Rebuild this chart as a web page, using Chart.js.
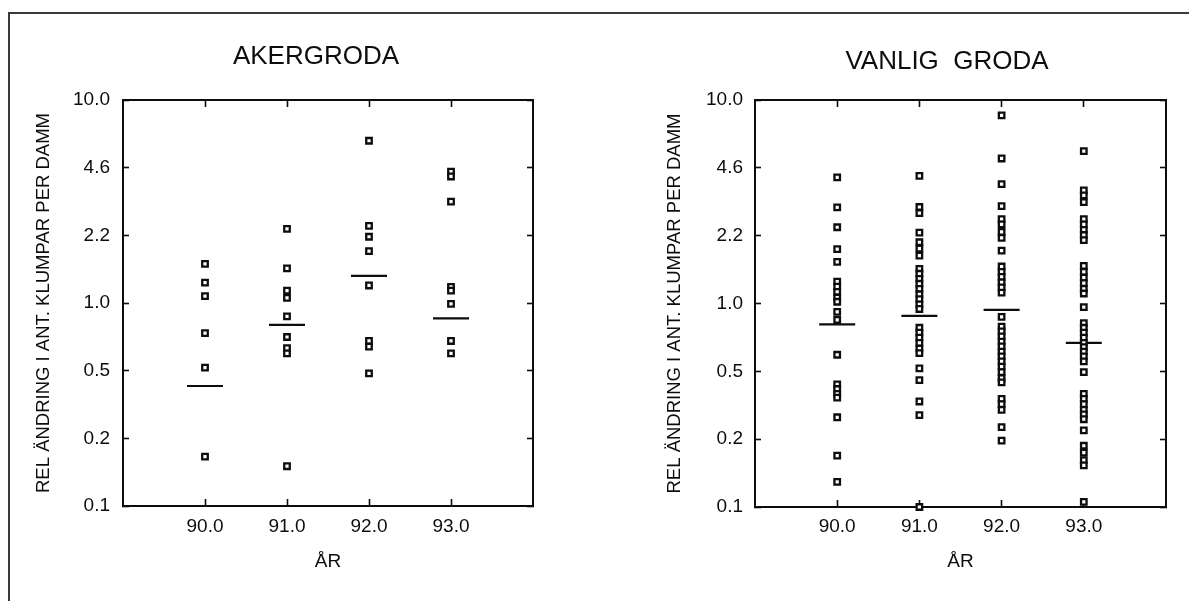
<!DOCTYPE html>
<html>
<head>
<meta charset="utf-8">
<script src="https://cdn.jsdelivr.net/npm/chart.js@4.4.1/dist/chart.umd.min.js"></script>
<style>
html,body{margin:0;padding:0;width:1189px;height:601px;overflow:hidden;background:#fff;}
#frame{position:absolute;left:8px;top:12px;width:1300px;height:700px;border-left:2px solid #3a3a3a;border-top:2px solid #3a3a3a;}
canvas{position:absolute;top:0;}
#c1{left:0;}
#c2{left:640px;}
</style>
</head>
<body>
<div id="frame"></div>
<canvas id="c1" width="632" height="601"></canvas>
<canvas id="c2" width="614" height="601"></canvas>
<script>
// ---- data ----
const years = [90, 91, 92, 93];
const xTickValues = [90, 91, 92, 93];
const xTickLabels = ['90.0', '91.0', '92.0', '93.0'];
const yTickValues = [0.1, 0.2154, 0.4642, 1, 2.154, 4.642, 10];
const yTickLabels = ['0.1', '0.2', '0.5', '1.0', '2.2', '4.6', '10.0'];
const yTitle = 'REL ÄNDRING I ANT. KLUMPAR PER DAMM';
const xTitle = 'ÅR';

const aker90 = [1.56, 1.26, 1.08, 0.71, 0.48, 0.175];
const aker91 = [2.32, 1.48, 1.15, 1.06, 0.86, 0.68, 0.60, 0.565, 0.157];
const aker92 = [6.3, 2.4, 2.12, 1.8, 1.22, 0.65, 0.61, 0.45];
const aker93 = [4.44, 4.2, 3.16, 1.2, 1.15, 0.99, 0.65, 0.565];
const akerMid = [0.39, 0.78, 1.36, 0.84];

const vanlig90 = [4.17, 2.97, 2.37, 1.85, 1.60, 1.28, 1.21, 1.14, 1.07, 1.02, 0.91, 0.83, 0.56, 0.40, 0.38, 0.36, 0.345, 0.276, 0.179, 0.133];
const vanlig91 = [4.24, 2.98, 2.78, 2.23, 2.0, 1.86, 1.72, 1.48, 1.40, 1.32, 1.25, 1.18, 1.11, 1.05, 0.99, 0.94, 0.76, 0.72, 0.68, 0.64, 0.60, 0.57, 0.48, 0.42, 0.33, 0.283, 0.1];
const vanlig92 = [8.4, 5.16, 3.86, 3.01, 2.6, 2.45, 2.25, 2.1, 1.82, 1.52, 1.43, 1.35, 1.27, 1.20, 1.13, 0.86, 0.77, 0.73, 0.69, 0.65, 0.615, 0.58, 0.55, 0.52, 0.49, 0.46, 0.43, 0.41, 0.34, 0.32, 0.30, 0.247, 0.212];
const vanlig93 = [5.61, 3.6, 3.4, 3.15, 2.6, 2.45, 2.3, 2.17, 2.05, 1.53, 1.43, 1.34, 1.26, 1.18, 1.12, 0.96, 0.80, 0.76, 0.72, 0.68, 0.64, 0.61, 0.58, 0.55, 0.52, 0.46, 0.36, 0.34, 0.32, 0.30, 0.285, 0.27, 0.238, 0.20, 0.185, 0.17, 0.16, 0.106];
const vanligMid = [0.79, 0.87, 0.93, 0.64];

// ---- drawing ----
const FONT = "'Liberation Sans', Arial, Helvetica, sans-serif";
const INK = '#0d0d0d';

function buildPoints(cols) {
  const pts = [];
  cols.forEach((vals, i) => vals.forEach(v => pts.push({x: years[i], y: v})));
  return pts;
}

function xAxis(L, top) {
  return {
    type: 'linear', position: top ? 'top' : 'bottom', min: 89, max: 94,
    afterFit: s => { s.height = top ? 0 : L.xHeight; },
    afterBuildTicks: s => { s.ticks = xTickValues.map(v => ({value: v})); },
    ticks: {display: !top, callback: (v, i) => xTickLabels[i], font: {family: FONT, size: 19}, color: INK,
            padding: L.xTickPad, maxRotation: 0, autoSkip: false},
    grid: {drawOnChartArea: false, drawTicks: true, tickLength: -7, tickColor: INK, tickWidth: 1.6},
    border: {display: true, color: INK, width: 2},
    title: {display: !top, text: xTitle, color: INK, font: {family: FONT, size: 19, lineHeight: 1.2},
            padding: {top: 0, bottom: L.xTitlePad}}
  };
}

function yAxis(L, right) {
  return {
    type: 'logarithmic', position: right ? 'right' : 'left', min: 0.1, max: 10,
    afterFit: s => { s.width = right ? L.padRight : L.yWidth; },
    afterBuildTicks: s => { s.ticks = yTickValues.map(v => ({value: v})); },
    ticks: {display: !right, callback: (v, i) => yTickLabels[i], font: {family: FONT, size: 19}, color: INK,
            padding: L.yTickPad, autoSkip: false},
    grid: {drawOnChartArea: false, drawTicks: true, tickLength: -6, tickColor: INK, tickWidth: 1.6},
    border: {display: true, color: INK, width: 2},
    title: {display: !right, text: yTitle, color: INK, font: {family: FONT, size: 18.5, lineHeight: 1.2},
            padding: {top: L.yTitlePad, bottom: 0}}
  };
}

function makeChart(id, title, cols, mids, L) {
  return new Chart(document.getElementById(id), {
    type: 'scatter',
    data: {
      datasets: [
        {data: buildPoints(cols), pointStyle: 'rect', pointRadius: 3.9, pointHoverRadius: 3.9,
         borderColor: INK, backgroundColor: '#fff', pointBorderWidth: 2.3, borderWidth: 2.3, clip: false},
        {data: mids.map((m, i) => ({x: years[i], y: m})), pointStyle: 'line', pointRadius: 18,
         pointHoverRadius: 18, pointBorderWidth: 2.2, borderWidth: 2.2, borderColor: INK, clip: false}
      ]
    },
    options: {
      responsive: false, animation: false, events: [],
      layout: {padding: 0},
      plugins: {
        legend: {display: false}, tooltip: {enabled: false},
        title: {display: true, text: title, color: INK,
                font: {family: FONT, size: 26, weight: 'normal', lineHeight: 1.2},
                padding: {top: L.titleTop, bottom: L.titleBottom}}
      },
      scales: {x: xAxis(L, false), x2: xAxis(L, true), y: yAxis(L, false), y2: yAxis(L, true)}
    }
  });
}

makeChart('c1', 'AKERGRODA', [aker90, aker91, aker92, aker93], akerMid,
  {padRight: 99, yWidth: 123, yTitlePad: 33, yTickPad: 19, xHeight: 95, xTickPad: 16, xTitlePad: 28,
   titleTop: 41.4, titleBottom: 27.4});
makeChart('c2', 'VANLIG  GRODA', [vanlig90, vanlig91, vanlig92, vanlig93], vanligMid,
  {padRight: 88, yWidth: 115, yTitlePad: 24, yTickPad: 18, xHeight: 94, xTickPad: 15, xTitlePad: 28,
   titleTop: 46.4, titleBottom: 22.4});
</script>
</body>
</html>
